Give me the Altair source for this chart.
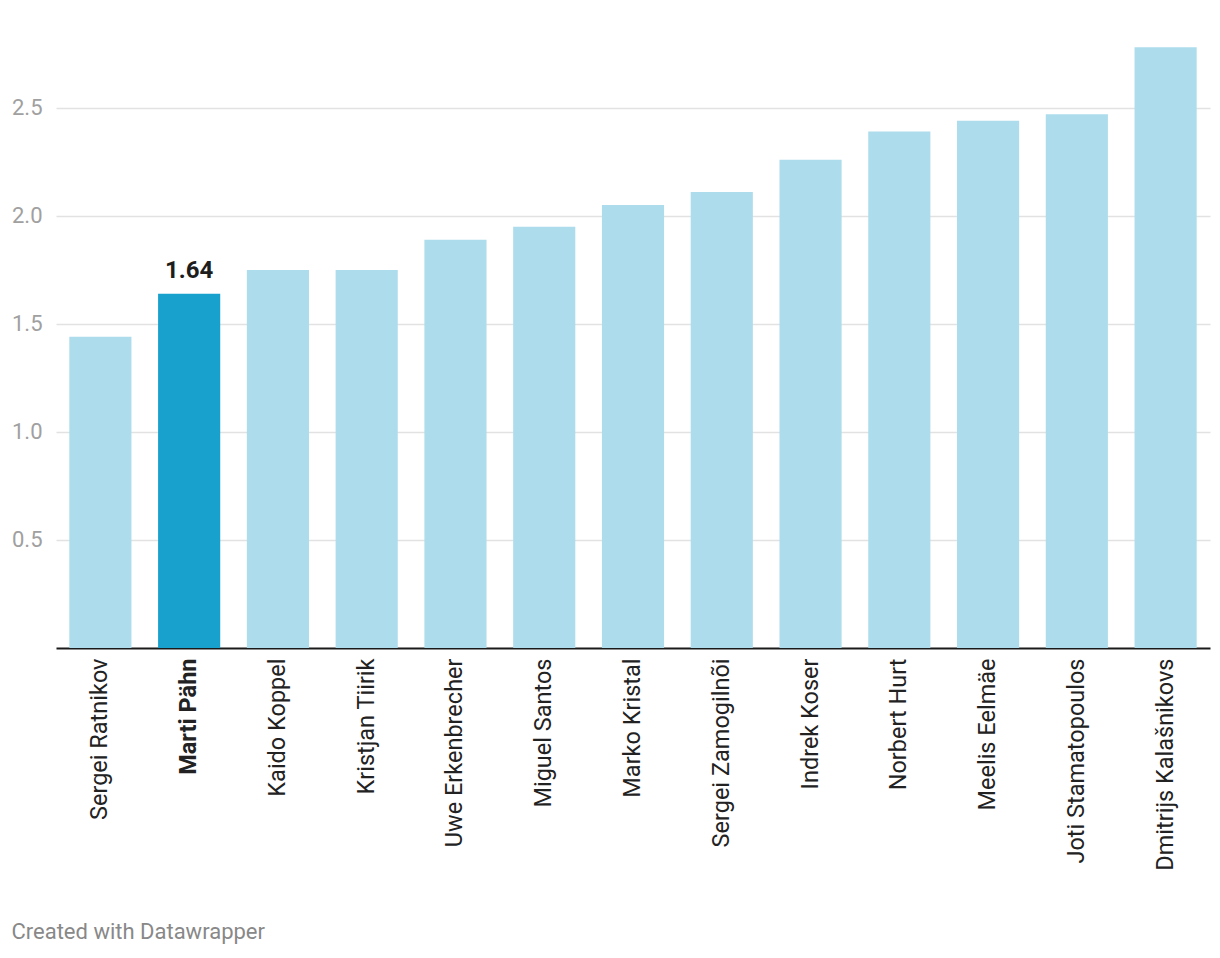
import altair as alt
import pandas as pd

names = [
    "Sergei Ratnikov", "Marti Pähn", "Kaido Koppel", "Kristjan Tiirik",
    "Uwe Erkenbrecher", "Miguel Santos", "Marko Kristal", "Sergei Zamogilnõi",
    "Indrek Koser", "Norbert Hurt", "Meelis Eelmäe", "Joti Stamatopoulos",
    "Dmitrijs Kalašnikovs",
]
values = [1.44, 1.64, 1.75, 1.75, 1.89, 1.95, 2.05, 2.11, 2.26, 2.39, 2.44, 2.47, 2.78]
highlight = "Marti Pähn"
y_ticks = [0.5, 1.0, 1.5, 2.0, 2.5]

df = pd.DataFrame({"name": names, "value": values})

FONT = "Roboto"

x_enc = alt.X(
    "name:N",
    sort=names,
    scale=alt.Scale(paddingInner=0.3, paddingOuter=0.15),
    axis=alt.Axis(
        title=None,
        labelAngle=-90,
        labelFontSize=23.5,
        labelFont=FONT,
        labelColor="#222222",
        labelFontWeight=alt.expr(f"datum.value == '{highlight}' ? 'bold' : 'normal'"),
        labelPadding=10,
        labelLimit=500,
        ticks=False,
        domain=True,
        domainColor="#1a1a1a",
        domainWidth=2,
        grid=False,
    ),
)
y_enc = alt.Y(
    "value:Q",
    scale=alt.Scale(domain=[0, 2.8], nice=False),
    axis=alt.Axis(
        title=None,
        values=y_ticks,
        format=".1f",
        labelFontSize=22,
        labelFont=FONT,
        labelColor="#a0a0a0",
        labelPadding=14,
        ticks=False,
        domain=False,
        grid=True,
        gridColor="#e2e2e2",
        gridWidth=1.5,
    ),
)

bars = alt.Chart(df).mark_bar().encode(
    x=x_enc,
    y=y_enc,
    color=alt.condition(
        alt.datum.name == highlight, alt.value("#18a1cd"), alt.value("#addcec")
    ),
)

label = (
    alt.Chart(df)
    .transform_filter(alt.datum.name == highlight)
    .mark_text(dy=-11, baseline="bottom", font=FONT, fontSize=24, fontWeight="bold", color="#1d1d1d")
    .encode(x=alt.X("name:N", sort=names), y="value:Q", text=alt.Text("value:Q", format=".2f"))
)

chart = (
    alt.layer(bars, label)
    .properties(
        width=1154,
        height=605,
        padding={"left": 3, "top": 35, "right": 2, "bottom": 5},
        title=alt.TitleParams(
            "Created with Datawrapper",
            orient="bottom",
            anchor="start",
            frame="bounds",
            fontSize=22,
            fontWeight="normal",
            font=FONT,
            color="#888888",
            offset=52,
        ),
    )
    .configure_view(stroke=None)
)

chart.save("out.html", embed_options={"renderer": "svg", "actions": False})
